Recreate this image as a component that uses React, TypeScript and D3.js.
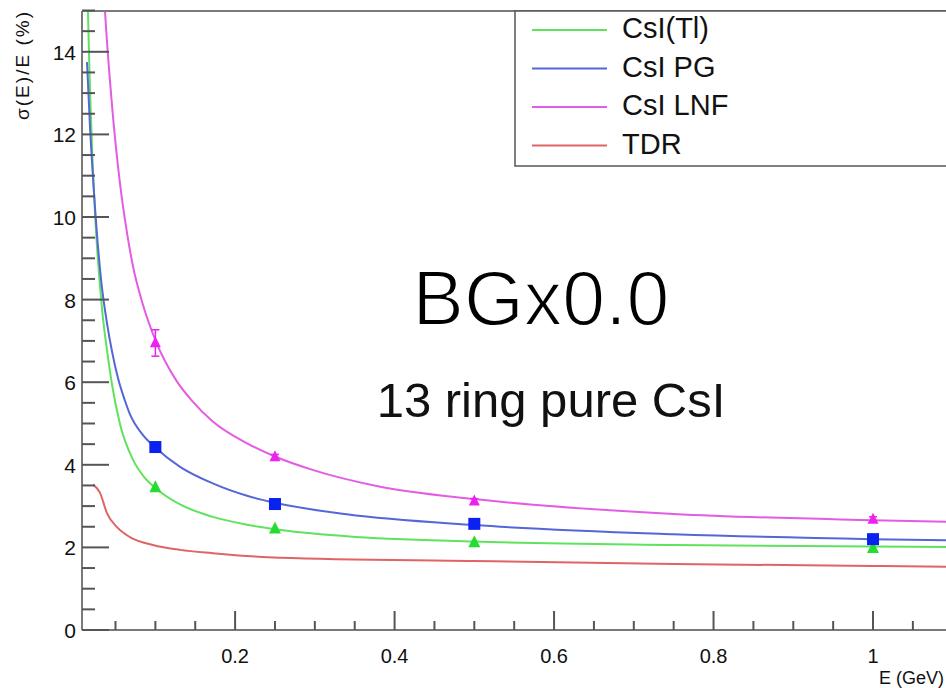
import React from "react";
import * as d3 from "d3";

// curve points: [E (GeV), sigma(E)/E (%)]
const curveTl = [
  [0.0145, 16.0], [0.0155, 15.0], [0.02, 12.0], [0.0243, 10.1], [0.033, 7.8],
  [0.0406, 6.6], [0.0456, 5.95], [0.0557, 4.98], [0.072, 4.12], [0.087, 3.68],
  [0.1, 3.44], [0.131, 3.04], [0.172, 2.74], [0.215, 2.55], [0.25, 2.44],
  [0.34, 2.27], [0.5, 2.14], [0.75, 2.06], [1.0, 2.02], [1.1, 2.01],
];
const curvePG = [
  [0.0143, 13.75], [0.018, 12.2], [0.023, 10.6], [0.0318, 8.5], [0.04, 7.35],
  [0.0456, 6.75], [0.0531, 6.1], [0.0619, 5.55], [0.0682, 5.22], [0.0845, 4.72],
  [0.1, 4.42], [0.131, 3.95], [0.172, 3.55], [0.215, 3.25], [0.25, 3.08],
  [0.34, 2.8], [0.5, 2.54], [0.75, 2.32], [1.0, 2.2], [1.1, 2.17],
];
const curveLNF = [
  [0.033, 16.4], [0.0368, 15.0], [0.045, 12.85], [0.0557, 10.8], [0.065, 9.55],
  [0.072, 8.8], [0.0833, 7.95], [0.1, 7.02], [0.127, 6.02], [0.146, 5.55],
  [0.172, 5.05], [0.215, 4.52], [0.25, 4.2], [0.298, 3.87], [0.382, 3.47],
  [0.5, 3.17], [0.75, 2.81], [1.0, 2.66], [1.1, 2.62],
];
const curveTDR = [
  [0.022, 3.52], [0.0306, 3.32], [0.0393, 2.83], [0.0519, 2.49], [0.068, 2.25],
  [0.097, 2.06], [0.131, 1.94], [0.172, 1.86], [0.256, 1.75], [0.5, 1.67],
  [0.75, 1.6], [1.0, 1.55], [1.1, 1.53],
];

// measured points
const energies = [0.1, 0.25, 0.5, 1.0];
const pointsTl = [3.45, 2.45, 2.12, 1.98];
const pointsPG = [4.43, 3.05, 2.57, 2.2];
const pointsLNF = [6.95, 4.19, 3.12, 2.68];
const errorsLNF = [0.32, 0.06, 0.06, 0.06];

const legendNames = ["CsI(Tl)", "CsI PG", "CsI LNF", "TDR"];
const lineColors = ["#5fe35f", "#5566d6", "#e35ce3", "#e06464"];

const yTicks = [0, 2, 4, 6, 8, 10, 12, 14];
const xTicks = [0.2, 0.4, 0.6, 0.8, 1];

const W = 946;
const H = 688;
const left = 82;
const top = 11;
const bottom = 630;
const font = "'Liberation Sans', Arial, Helvetica, sans-serif";

export default function App() {
  const x = d3.scaleLinear().domain([0.008, 1.1]).range([left, left + 1.092 * 797.4]);
  const y = d3.scaleLinear().domain([0, 15]).range([bottom, bottom - 15 * 41.3]);

  const line = d3
    .line<number[]>()
    .x((d) => x(d[0]))
    .y((d) => y(d[1]))
    .curve(d3.curveMonotoneX);

  const curves = [curveTl, curvePG, curveLNF, curveTDR];

  const minorY = d3.range(0, 15.01, 0.5);
  const minorX = d3.range(0.05, 1.101, 0.05);

  // upward triangle marker
  const tri = (cx: number, cy: number, s: number) =>
    `M${cx},${cy - s * 0.6} L${cx + s / 2},${cy + s * 0.4} L${cx - s / 2},${cy + s * 0.4} Z`;

  return (
    <svg
      width={W}
      height={H}
      style={{ position: "absolute", left: 0, top: 0, background: "#fff" }}
      fontFamily={font}
    >
      <defs>
        <clipPath id="plot">
          <rect x={left} y={top} width={W - left} height={bottom - top} />
        </clipPath>
      </defs>

      {/* fitted curves */}
      <g clipPath="url(#plot)" fill="none" strokeWidth={2}>
        {curves.map((c, i) => (
          <path key={i} d={line(c) || ""} stroke={lineColors[i]} />
        ))}
      </g>

      {/* LNF error bars */}
      <g stroke="#ee22ee" strokeWidth={1.5}>
        {energies.map((e, i) => (
          <g key={i}>
            <line x1={x(e)} x2={x(e)} y1={y(pointsLNF[i] - errorsLNF[i])} y2={y(pointsLNF[i] + errorsLNF[i])} />
            <line x1={x(e) - 4} x2={x(e) + 4} y1={y(pointsLNF[i] + errorsLNF[i])} y2={y(pointsLNF[i] + errorsLNF[i])} />
            <line x1={x(e) - 4} x2={x(e) + 4} y1={y(pointsLNF[i] - errorsLNF[i])} y2={y(pointsLNF[i] - errorsLNF[i])} />
          </g>
        ))}
      </g>

      {/* markers */}
      {energies.map((e, i) => (
        <path key={"g" + i} d={tri(x(e), y(pointsTl[i]), 12)} fill="#25dd30" />
      ))}
      {energies.map((e, i) => (
        <rect key={"b" + i} x={x(e) - 6} y={y(pointsPG[i]) - 6} width={12} height={12} fill="#0a22f0" />
      ))}
      {energies.map((e, i) => (
        <path key={"m" + i} d={tri(x(e), y(pointsLNF[i]), 11)} fill="#ee22ee" />
      ))}

      {/* frame */}
      <g stroke="#7a7a7a" strokeWidth={2} fill="none">
        <line x1={left} x2={W} y1={top} y2={top} />
        <line x1={left} x2={left} y1={top} y2={bottom} />
        <line x1={left} x2={W} y1={bottom} y2={bottom} />
      </g>

      {/* y ticks */}
      <g stroke="#555" strokeWidth={2}>
        {minorY.map((v) => (
          <line key={v} x1={left} x2={left + (v % 2 === 0 ? 27 : 13)} y1={y(v)} y2={y(v)} />
        ))}
      </g>
      <g fontSize={21} textAnchor="end" fill="#111">
        {yTicks.map((v) => (
          <text key={v} x={76} y={y(v) + 8}>{v}</text>
        ))}
      </g>

      {/* x ticks */}
      <g stroke="#555" strokeWidth={2}>
        {minorX.map((v, i) => (
          <line key={i} x1={x(v)} x2={x(v)} y1={bottom} y2={bottom - ((i + 1) % 4 === 0 ? 19 : 9)} />
        ))}
      </g>
      <g fontSize={20} textAnchor="middle" fill="#111">
        {xTicks.map((v) => (
          <text key={v} x={x(v)} y={663}>{v}</text>
        ))}
      </g>

      {/* axis titles */}
      <text x={944} y={684} fontSize={18} textAnchor="end" fill="#111">E (GeV)</text>
      <text
        transform="translate(29,12) rotate(-90)"
        fontSize={19}
        textAnchor="end"
        textLength={108}
        lengthAdjust="spacing"
        fill="#111"
      >
        σ(E)/E (%)
      </text>

      {/* legend */}
      <rect x={515} y={top} width={500} height={155} fill="#fff" stroke="#555" strokeWidth={1.5} />
      {legendNames.map((n, i) => (
        <g key={n}>
          <line x1={532} x2={607} y1={30 + i * 38.5} y2={30 + i * 38.5} stroke={lineColors[i]} strokeWidth={2} />
          <text x={622} y={30 + i * 38.5 + 8} fontSize={29} fill="#111">{n}</text>
        </g>
      ))}

      {/* annotations */}
      <text x={541} y={325} fontSize={77} textAnchor="middle" fill="#000" stroke="#fff" strokeWidth={1.8}>
        BGx0.0
      </text>
      <text x={551} y={417} fontSize={49} textAnchor="middle" fill="#111">13 ring pure CsI</text>
    </svg>
  );
}
